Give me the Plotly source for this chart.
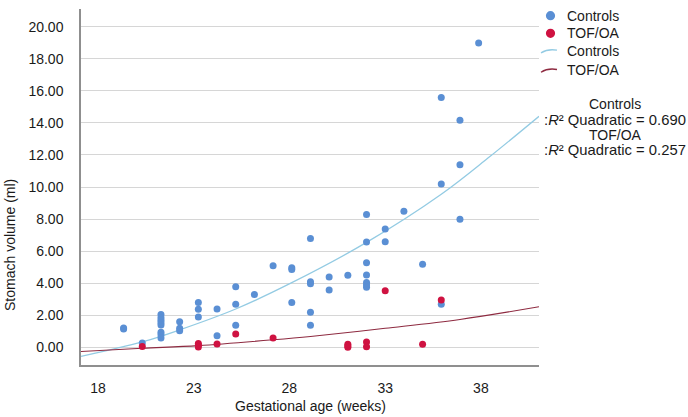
import plotly.graph_objects as go

# ---------------- data ----------------
ctrl_weeks = [19, 19, 20,
              21, 21, 21, 21, 21, 21, 21, 21,
              22, 22, 22,
              23, 23, 23,
              24, 24,
              25, 25, 25,
              26,
              27,
              28, 28, 28,
              29, 29, 29, 29, 29,
              30, 30,
              31,
              32, 32, 32, 32, 32, 32, 32,
              33, 33,
              34,
              35,
              36, 36, 36,
              37, 37, 37,
              38]
ctrl_vol = [1.15, 1.22, 0.28,
            2.05, 1.85, 1.70, 1.55, 1.40, 0.95, 0.80, 0.60,
            1.60, 1.20, 1.05,
            2.81, 2.39, 1.90,
            2.40, 0.73,
            3.79, 2.70, 1.39,
            3.30,
            5.09,
            4.97, 4.87, 2.80,
            6.80, 4.10, 3.97, 2.20, 1.39,
            4.40, 3.58,
            4.51,
            8.29, 6.58, 5.29, 4.52, 4.06, 3.90, 3.75,
            7.39, 6.60,
            8.50,
            5.19,
            15.58, 10.19, 2.70,
            14.17, 11.39, 8.00,
            18.98]

tof_weeks = [20, 23, 23, 23, 24, 25, 27, 31, 31, 31, 32, 32, 33, 35, 36]
tof_vol = [0.06, 0.25, 0.15, 0.03, 0.22, 0.85, 0.60, 0.20, 0.10, 0.02,
           0.35, 0.04, 3.54, 0.21, 2.96]

# quadratic fit lines
ctrl_fit_weeks = [16.72, 20, 22, 25, 28, 32, 36, 38.6, 41.23]
ctrl_fit_vol = [-0.55, 0.35, 1.10, 2.40, 4.04, 6.55, 9.55, 11.90, 14.41]
tof_fit_weeks = [16.72, 20, 23, 27, 29, 33, 37, 41.23]
tof_fit_vol = [-0.25, -0.05, 0.12, 0.48, 0.69, 1.20, 1.75, 2.54]

x_tick_text = ["18", "23", "28", "33", "38"]
y_tick_vals = [0, 2, 4, 6, 8, 10, 12, 14, 16, 18, 20]
r2_values = ["0.690", "0.257"]
group_names = ["Controls", "TOF/OA"]

# ---------------- styling ----------------
BLUE = "#5a8fd4"
RED = "#cf1241"
BLUE_LINE = "#93cbe3"
RED_LINE = "#8e2a40"
FONT = "Liberation Sans, Arial, sans-serif"
TXT = "#1a1a1a"

W, H = 688, 417
L, R, T, B = 81, 149, 9, 52
PW, PH = W - L - R, H - T - B


def pxx(xp):  # page pixel -> paper x
    return (xp - L) / PW


def pxy(yp):  # page pixel -> paper y
    return (H - B - yp) / PH


x_tick_pos = [17.63, 22.75, 27.87, 33.0, 38.12]

fig = go.Figure()
fig.add_trace(go.Scatter(x=ctrl_fit_weeks, y=ctrl_fit_vol, mode="lines",
                         line=dict(color=BLUE_LINE, width=1.3, shape="spline"),
                         hoverinfo="skip", showlegend=False))
fig.add_trace(go.Scatter(x=tof_fit_weeks, y=tof_fit_vol, mode="lines",
                         line=dict(color=RED_LINE, width=1.1, shape="spline"),
                         hoverinfo="skip", showlegend=False))
fig.add_trace(go.Scatter(x=ctrl_weeks, y=ctrl_vol, mode="markers",
                         marker=dict(color=BLUE, size=7, line=dict(width=0)),
                         name=group_names[0], showlegend=False))
fig.add_trace(go.Scatter(x=tof_weeks, y=tof_vol, mode="markers",
                         marker=dict(color=RED, size=7, line=dict(width=0)),
                         name=group_names[1], showlegend=False))

fig.update_layout(
    width=W, height=H,
    margin=dict(l=L, r=R, t=T, b=B),
    paper_bgcolor="white", plot_bgcolor="white",
    font=dict(family=FONT, size=14, color=TXT),
    showlegend=False,
    xaxis=dict(range=[16.72, 41.23], tickvals=x_tick_pos, ticktext=x_tick_text,
               showgrid=False, zeroline=False, showline=True,
               linecolor="#8f8f8f", linewidth=1.5,
               ticks="outside", ticklen=9, tickcolor="rgba(0,0,0,0)",
               tickfont=dict(size=14, color=TXT)),
    yaxis=dict(range=[-1.09, 21.1], tickvals=y_tick_vals, tickformat=".2f",
               showgrid=True, gridcolor="#d6d6d6", gridwidth=1,
               zeroline=False, showline=True,
               linecolor="#8f8f8f", linewidth=1.5,
               ticks="outside", ticklen=13, tickcolor="rgba(0,0,0,0)",
               tickfont=dict(size=14, color=TXT)),
)

ann = []
# axis titles
ann.append(dict(text="Gestational age (weeks)", xref="paper", yref="paper",
                x=pxx(310), y=pxy(406), xanchor="center", yanchor="middle",
                showarrow=False, font=dict(size=14, color=TXT)))
ann.append(dict(text="Stomach volume (ml)", xref="paper", yref="paper",
                x=pxx(10), y=pxy(245), xanchor="center", yanchor="middle",
                textangle=-90, showarrow=False, font=dict(size=14, color=TXT)))

# legend
legend_rows = [(15.7, group_names[0]), (33.3, group_names[1]),
               (50.7, group_names[0]), (70.0, group_names[1])]
for yy, name in legend_rows:
    ann.append(dict(text=name, xref="paper", yref="paper", x=pxx(565), y=pxy(yy),
                    xanchor="left", yanchor="middle", showarrow=False,
                    font=dict(size=14, color=TXT)))

shapes = []
for yy, col in [(15.7, BLUE), (33.3, RED)]:
    shapes.append(dict(type="circle", xref="paper", yref="paper",
                       xsizemode="pixel", ysizemode="pixel",
                       xanchor=pxx(550.5), yanchor=pxy(yy),
                       x0=-4.6, x1=4.6, y0=-4.6, y1=4.6,
                       fillcolor=col, line=dict(width=0)))
for yy, col in [(50.7, BLUE_LINE), (70.0, RED_LINE)]:
    path = "M {:.5f},{:.5f} Q {:.5f},{:.5f} {:.5f},{:.5f}".format(
        pxx(541), pxy(yy + 2.2), pxx(548), pxy(yy - 2.2), pxx(557), pxy(yy - 0.5))
    shapes.append(dict(type="path", xref="paper", yref="paper", path=path,
                       line=dict(color=col, width=1.3)))

# R^2 block
r2_rows = [(104.0, group_names[0], 14),
           (120.0, ":<i>R</i>² Quadratic = " + r2_values[0], 14.8),
           (134.5, group_names[1], 14),
           (150.0, ":<i>R</i>² Quadratic = " + r2_values[1], 14.8)]
for yy, txt, fs in r2_rows:
    ann.append(dict(text=txt, xref="paper", yref="paper", x=pxx(615), y=pxy(yy),
                    xanchor="center", yanchor="middle", showarrow=False,
                    font=dict(size=fs, color=TXT)))

fig.update_layout(annotations=ann, shapes=shapes)
# the page's default 8px body margin would shift the figure; remove it
fig.write_html("out.html",
               config={"displayModeBar": False},
               post_script="document.body.style.margin='0px';")
